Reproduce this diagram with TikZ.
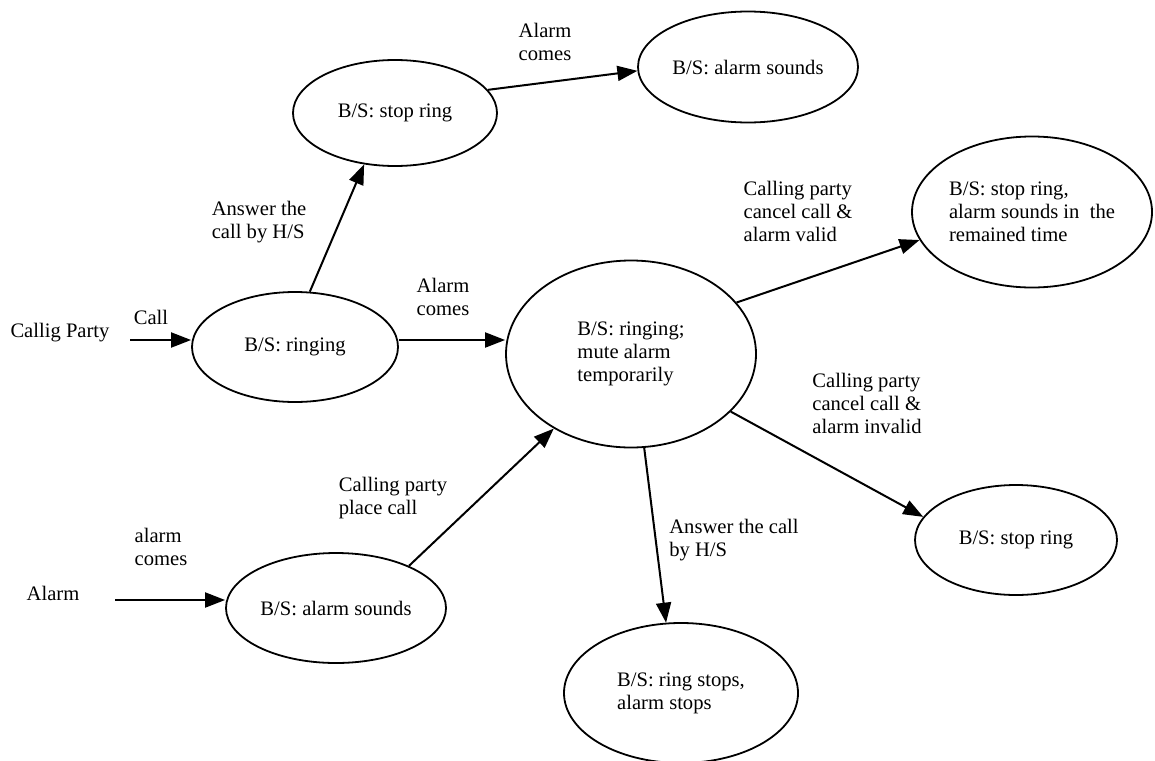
\documentclass[tikz,border=0pt]{standalone}
\usepackage{fontspec}
\setmainfont{Liberation Serif}
\usetikzlibrary{shapes.geometric}
\usetikzlibrary{arrows.meta}

\begin{document}
\begin{tikzpicture}[x=0.5pt, y=-0.5pt, >={Triangle[length=10pt,width=7.5pt]},
    font=\fontsize{10.3}{11.5}\selectfont,
    state/.style={draw, ellipse, line width=0.9pt, inner sep=0pt, align=left},
    lbl/.style={align=left, inner sep=0pt},
    trans/.style={->, line width=1pt}]
    \useasboundingbox (0,0) rectangle (1155,760);

    % the states
    \node[state, minimum width=102pt, minimum height=53pt] (stopring) at (395,113) {B/S: stop ring};
    \node[state, minimum width=110pt, minimum height=55.5pt] (alarmtop) at (748,67) {B/S: alarm sounds};
    \node[state, minimum width=103pt, minimum height=55pt] (ringing) at (295,347) {B/S: ringing};
    \node[state, minimum width=125pt, minimum height=93.5pt] (mute) at (631,354) {B/S: ringing;\\mute alarm\\temporarily};
    \node[state, minimum width=120pt, minimum height=75.5pt] (remain) at (1032,212) {B/S: stop ring,\\alarm sounds in~ the\\remained time};
    \node[state, minimum width=101pt, minimum height=55pt] (stopring2) at (1016,540) {B/S: stop ring};
    \node[state, minimum width=117pt, minimum height=70pt] (ringstop) at (681,693) {B/S: ring stops,\\alarm stops};
    \node[state, minimum width=110pt, minimum height=55pt] (alarmsnd) at (336,608) {B/S: alarm sounds};

    % the inputs
    \node[lbl] (callig) at (60,333) {Callig Party};
    \node[lbl] (alarm) at (53,593) {Alarm};
    \coordinate (callin) at (130,340);
    \coordinate (alarmin) at (115,600);

    % the arrows and labels
    \draw[trans] (callin) -- (callin -| ringing.west);
    \draw[trans] ([yshift=3.5pt]ringing.east) -- ([yshift=7pt]mute.west);
    \draw[trans] (ringing.75) -- (stopring.239);
    \draw[trans] (stopring.14) -- (alarmtop.182);
    \draw[trans] (mute.26) -- (remain.194);
    \draw[trans] (mute.330) -- (stopring2.166);
    \draw[trans] (mute.278) -- (ringstop.102);
    \draw[trans] (alarmin) -- (alarmin -| alarmsnd.west);
    \draw[trans] (alarmsnd.30) -- (mute.224);

    \node[lbl] (calllbl) at (151,317) {Call};
    \node[lbl] (comes1) at (443,297) {Alarm\\comes};
    \node[lbl] (comes2) at (545,42) {Alarm\\comes};
    \node[lbl] (answer1) at (259,222) {Answer the\\call by H/S};
    \node[lbl] (valid) at (798,211) {Calling party\\cancel call \&\\alarm valid};
    \node[lbl] (invalid) at (867,403) {Calling party\\cancel call \&\\alarm invalid};
    \node[lbl] (comes3) at (161,547) {alarm\\comes};
    \node[lbl] (place) at (393,498) {Calling party\\place call};
    \node[lbl] (answer2) at (734,540) {Answer the call\\by H/S};
\end{tikzpicture}
\end{document}
